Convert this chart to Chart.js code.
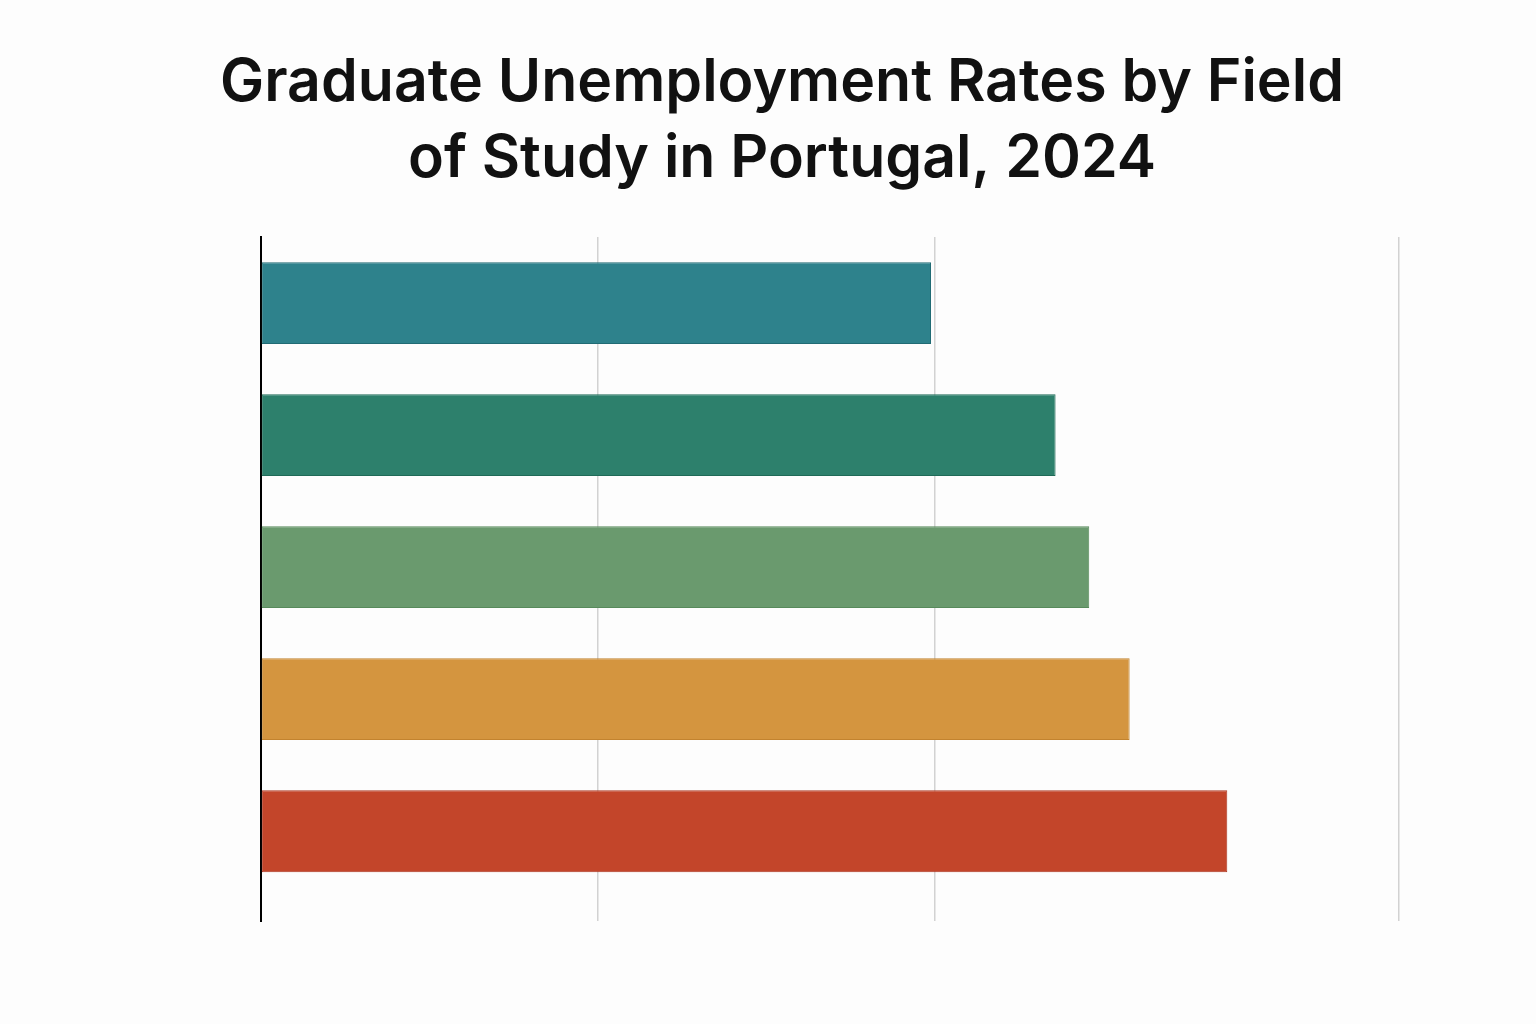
<!DOCTYPE html>
<html>
<head>
<meta charset="utf-8">
<script src="https://cdn.jsdelivr.net/npm/chart.js@4.4.1/dist/chart.umd.min.js"></script>
<style>
  html, body { margin: 0; padding: 0; background: #fdfdfd; }
  #wrap { width: 1536px; height: 1024px; }
</style>
</head>
<body>
<div id="wrap"><canvas id="myChart"></canvas></div>
<script>
// data (no labels are printed on it)
const fields = ['Health Sciences', 'Engineering & Technology', 'Natural Sciences', 'Business & Economics', 'Arts & Humanities'];
const rates = [9.95, 11.8, 12.3, 12.9, 14.35];
const barColors = ['#2e828c', '#2d806c', '#6a9a6e', '#d4953f', '#c3452a'];
const barBorders = ['#216b74', '#1f6a57', '#578a5b', '#c2832f', '#ad3620'];
const gridTicks = [0, 5, 10];
const xMax = 16.9;

const ctx = document.getElementById('myChart').getContext('2d');

// background fill, the reference is a very light off-white
const bgPlugin = {
  id: 'bg',
  beforeDraw: (chart) => {
    const c = chart.ctx;
    c.save();
    c.fillStyle = '#fdfdfd';
    c.fillRect(0, 0, chart.width, chart.height);
    c.restore();
  }
};

const chart = new Chart(ctx, {
  type: 'bar',
  data: {
    labels: fields,
    datasets: [{
      label: 'Unemployment rate (%)',
      data: fields.map((f, i) => ({ x: rates[i], y: i })),
      backgroundColor: barColors,
      borderColor: barBorders,
      borderWidth: 1,
      borderSkipped: false,
      barPercentage: 0.62,
      categoryPercentage: 1
    }]
  },
  plugins: [bgPlugin],
  options: {
    indexAxis: 'y',
    responsive: true,
    maintainAspectRatio: false,
    animation: false,
    layout: { padding: { left: 165, right: 137, top: 0, bottom: 103 } },
    plugins: {
      legend: { display: false },
      tooltip: { enabled: false },
      title: {
        display: true,
        text: ['Graduate Unemployment Rates by Field', 'of Study in Portugal, 2024'],
        color: '#111111',
        font: { family: 'Inter', size: 59, weight: '600', lineHeight: 1.28 },
        padding: { top: 46, bottom: 40 }
      }
    },
    scales: {
      x: {
        type: 'linear',
        min: 0,
        max: xMax,
        afterBuildTicks: (scale) => {
          scale.ticks = gridTicks.concat([xMax]).map(v => ({ value: v }));
        },
        afterFit: (scale) => { scale.height = 0; },
        ticks: { display: false },
        border: { display: false },
        grid: { color: '#d2d2d2', lineWidth: 1.5, drawTicks: false }
      },
      y: {
        type: 'linear',
        offset: false,
        min: -0.5,
        max: 4.68,
        reverse: true,
        afterBuildTicks: (scale) => {
          scale.ticks = fields.map((f, i) => ({ value: i }));
        },
        afterFit: (scale) => { scale.width = 96; },
        ticks: { display: false },
        grid: { display: false, drawTicks: false, offset: false },
        border: { display: true, color: '#000000', width: 2 }
      }
    }
  }
});
</script>
</body>
</html>
